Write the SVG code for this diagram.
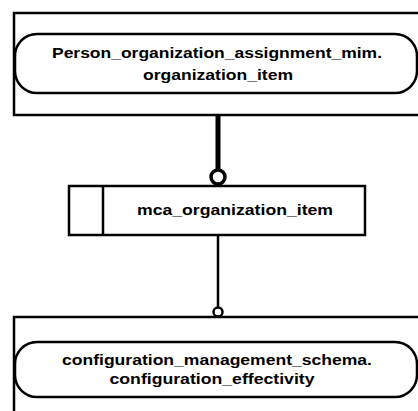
<svg xmlns="http://www.w3.org/2000/svg" width="418" height="411" viewBox="0 0 418 411">
<style>
.box{fill:#fff;stroke:#000;stroke-width:2.5}
.pill{fill:#fff;stroke:#000;stroke-width:2.5}
.t{font-family:"Liberation Sans",Arial,sans-serif;font-size:14px;font-weight:bold;fill:#000}
.con{stroke:#000;fill:none}
</style>
<rect width="418" height="411" fill="#fff"/>
<g id="node-person-org">
<rect class="box" x="14" y="13" width="410" height="102"/>
<rect class="pill" x="15" y="34" width="402" height="59" rx="22" ry="22"/>
<text class="t" x="217" y="58" text-anchor="middle" textLength="330" lengthAdjust="spacingAndGlyphs">Person_organization_assignment_mim.</text>
<text class="t" x="218" y="80" text-anchor="middle" textLength="150" lengthAdjust="spacingAndGlyphs">organization_item</text>
</g>
<g id="node-mca">
<rect class="box" x="69" y="186" width="296" height="49"/>
<line class="con" x1="103" y1="186" x2="103" y2="235" stroke-width="2.5"/>
<text class="t" x="235" y="215" text-anchor="middle" textLength="196" lengthAdjust="spacingAndGlyphs">mca_organization_item</text>
</g>
<g id="node-config">
<rect class="box" x="14" y="317" width="410" height="100"/>
<rect class="pill" x="15" y="342" width="402" height="55" rx="22" ry="22"/>
<text class="t" x="217" y="365" text-anchor="middle" textLength="310" lengthAdjust="spacingAndGlyphs">configuration_management_schema.</text>
<text class="t" x="212" y="384" text-anchor="middle" textLength="205" lengthAdjust="spacingAndGlyphs">configuration_effectivity</text>
</g>
<g id="connectors">
<line class="con" x1="218" y1="115" x2="218" y2="169" stroke-width="5"/>
<circle class="con" cx="218" cy="177" r="7" stroke-width="3.5" fill="#fff"/>
<line class="con" x1="218" y1="235" x2="218" y2="307" stroke-width="2.5"/>
<circle class="con" cx="218" cy="312" r="4.5" stroke-width="2.5" fill="#fff"/>
</g>
</svg>
